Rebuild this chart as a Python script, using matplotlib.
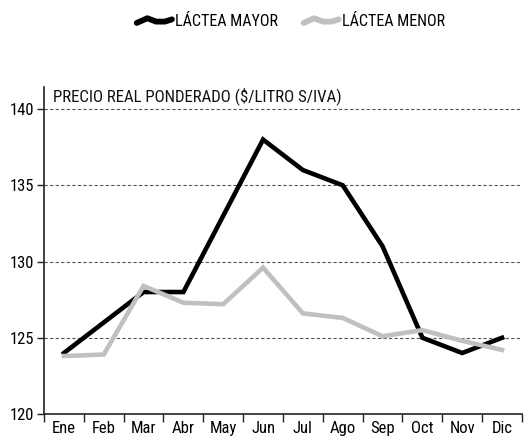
import matplotlib
matplotlib.use("Agg")
import matplotlib.pyplot as plt
from matplotlib.lines import Line2D
from matplotlib.legend_handler import HandlerBase

plt.rcParams['font.family'] = ['Roboto Condensed', 'Archivo Narrow', 'Liberation Sans Narrow', 'DejaVu Sans']

months = ["Ene", "Feb", "Mar", "Abr", "May", "Jun", "Jul", "Ago", "Sep", "Oct", "Nov", "Dic"]
lactea_mayor = [124.0, 126.0, 128.0, 128.0, 133.0, 138.0, 136.0, 135.0, 131.0, 125.0, 124.0, 125.0]
lactea_menor = [123.8, 123.9, 128.4, 127.3, 127.2, 129.6, 126.6, 126.3, 125.1, 125.5, 124.8, 124.2]
series_names = ["LÁCTEA MAYOR", "LÁCTEA MENOR"]
series_colors = ["#000000", "#c0c0c0"]
y_ticks = [120, 125, 130, 135, 140]
y_title = "PRECIO REAL PONDERADO ($/LITRO S/IVA)"


class WaveHandler(HandlerBase):
    """Small wave-shaped legend key."""
    def create_artists(self, legend, orig_handle, xdescent, ydescent,
                       width, height, fontsize, trans):
        xs = [0.0, 0.3, 0.55, 0.8, 1.0]
        ys = [0.3, 0.72, 0.42, 0.42, 0.62]
        line = Line2D([x * width - xdescent for x in xs],
                      [y * height - ydescent for y in ys],
                      color=orig_handle.get_color(), lw=4.2,
                      solid_joinstyle='round', solid_capstyle='round')
        line.set_transform(trans)
        return [line]


fig = plt.figure(figsize=(5.28, 4.36), dpi=100)
ax = fig.add_axes([0.0833, 0.0505, 0.9053, 0.75])

x = list(range(len(months)))
lines = []
for vals, name, col in zip([lactea_mayor, lactea_menor], series_names, series_colors):
    ln, = ax.plot(x, vals, color=col, lw=3.3, solid_joinstyle='miter', label=name, zorder=3)
    lines.append(ln)

ax.set_xlim(-0.5, len(months) - 0.5)
ax.set_ylim(120, 141.45)

ax.set_yticks(y_ticks)
ax.set_yticklabels([str(v) for v in y_ticks], fontsize=12)
for v in y_ticks[1:]:
    ax.axhline(v, color="#555555", lw=0.8, ls=(0, (3, 2)), zorder=1)

ax.set_xticks(x)
ax.set_xticklabels(months, fontsize=12)
ax.set_xticks([i - 0.5 for i in range(len(months) + 1)], minor=True)
ax.tick_params(axis='x', which='major', length=0, pad=5)
ax.tick_params(axis='x', which='minor', length=6, width=1, direction='out', color="#222222")
ax.tick_params(axis='y', length=5, width=1, direction='out', color="#222222", pad=2)

for s in ["top", "right"]:
    ax.spines[s].set_visible(False)
for s in ["left", "bottom"]:
    ax.spines[s].set_color("#222222")
    ax.spines[s].set_linewidth(1.2)

ax.text(0.019, 140.3, y_title, transform=ax.get_yaxis_transform(), fontsize=12.2,
        ha='left', va='bottom', color="#111111")

fig.legend(lines, series_names, loc='center', bbox_to_anchor=(0.551, 0.95), ncol=2,
           frameon=False, fontsize=11.5, handlelength=2.2, handletextpad=0.2,
           columnspacing=1.6, handler_map={Line2D: WaveHandler()})

fig.savefig("out.png", dpi=100)
